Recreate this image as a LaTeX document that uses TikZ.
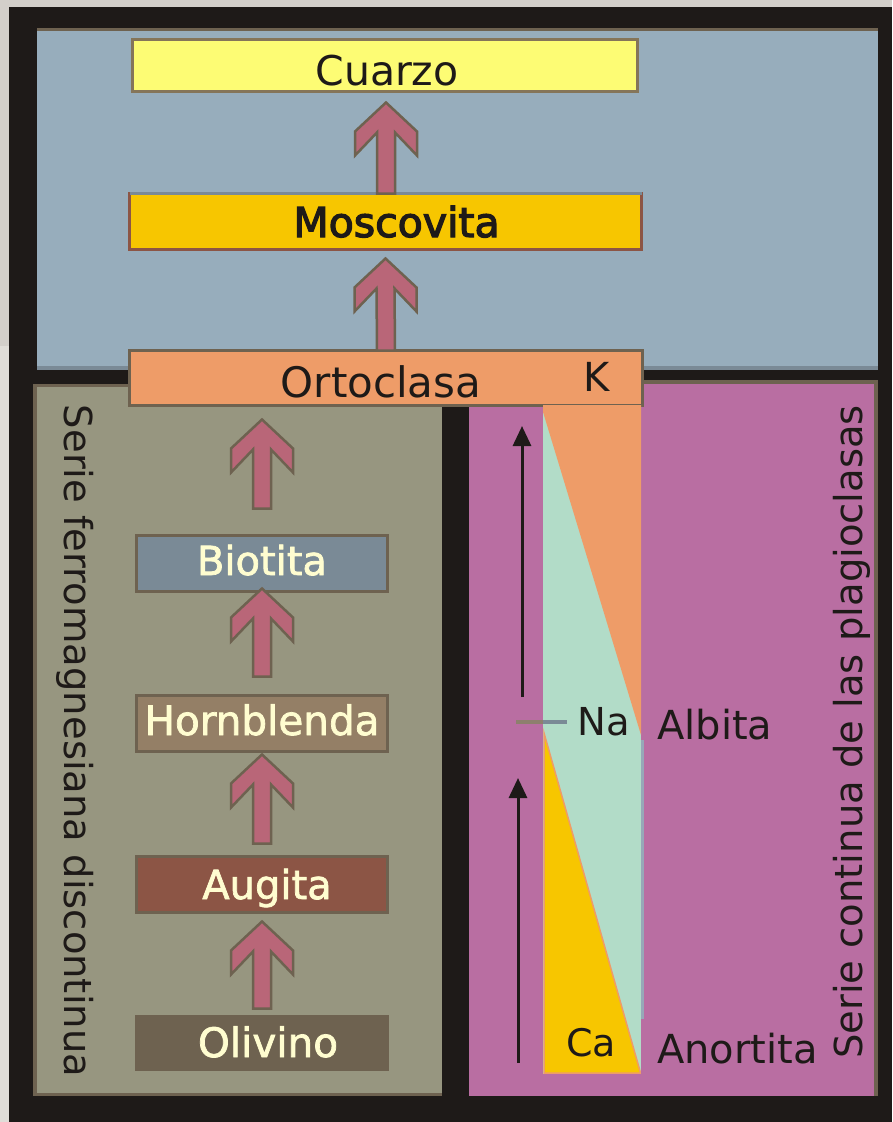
\documentclass[tikz,border=0pt]{standalone}
\usepackage{fontspec}
\setmainfont{DejaVu Sans}
\newfontfamily\bfam{DejaVu Sans}[FakeBold=1.8]
\newfontfamily\mfam{DejaVu Sans}[FakeBold=3]
\usetikzlibrary{arrows.meta,calc}

\definecolor{bgray}{HTML}{D3CFCA}
\definecolor{lgray}{HTML}{E0DDD8}
\definecolor{blk}{HTML}{1E1A18}
\definecolor{bluep}{HTML}{97ADBC}
\definecolor{olivep}{HTML}{979680}
\definecolor{magp}{HTML}{B96EA2}
\definecolor{orng}{HTML}{EE9C68}
\definecolor{yel}{HTML}{F7C600}
\definecolor{lyel}{HTML}{FDFC74}
\definecolor{mint}{HTML}{B2DCC8}
\definecolor{brn}{HTML}{6E6250}
\definecolor{tbrn}{HTML}{857559}
\definecolor{rbrn}{HTML}{8C5545}
\definecolor{bgbox}{HTML}{7A8A96}
\definecolor{hbox}{HTML}{947F66}
\definecolor{cream}{HTML}{FFFDD0}
\definecolor{pnk}{HTML}{B96678}
\definecolor{edgeblue}{HTML}{97A8B8}
\definecolor{tick}{HTML}{8E7F6E}

\tikzset{
  box/.style={rectangle, inner sep=0pt, outer sep=0pt, line width=3pt, draw=brn},
  darktxt/.style={font=\fontsize{#1}{#1}\selectfont, text=blk},
  lighttxt/.style={font=\bfam\fontsize{#1}{#1}\selectfont, text=cream},
  boldtxt/.style={font=\mfam\fontsize{#1}{#1}\selectfont, text=blk},
  fat/.style={fill=pnk, draw=brn, line width=2.5pt, line join=miter},
  sarrow/.style={draw=blk, line width=3pt, -{Triangle[length=20pt,width=18pt]}},
  vtext/.style={font=\fontsize{38.5}{38.5}\selectfont, text=blk, inner sep=0pt}
}

\newcommand\fatarrow[2]{%
  \filldraw[fat] (#2) -- ++(31,29) -- ++(0,24) -- ++(-22,-23)
    -- ($(#1)+(9,0)$) -- ($(#1)+(-9,0)$) -- ($(#2)+(-9,30)$)
    -- ++(-22,23) -- ++(0,-24) -- cycle;}

\begin{document}
\begin{tikzpicture}[x=1pt,y=-1pt]
\useasboundingbox (0,0) rectangle (892,1122);
% background and frame
\fill[bgray] (0,0) rectangle (892,1122);
\fill[lgray] (0,346) rectangle (9,1122);
\fill[blk] (9,7) rectangle (892,1122);
% blue panel
\fill[bgbox] (37,28) rectangle (878,370);
\fill[brn] (37,28) rectangle (878,31);
\fill[bluep] (37,31) rectangle (878,366);
% olive panel
\fill[brn] (33,384) rectangle (442,1096);
\fill[olivep] (37,387) rectangle (442,1093);
% magenta panel
\fill[brn] (469,380) rectangle (878,1096);
\fill[magp] (469,384) rectangle (874,1096);

% Ortoclasa bar
\node[box, fill=orng, minimum width=513pt, minimum height=55pt]
  (ortoclasa) at (386,378) {};
% continuous-series strip
\fill[mint] (543,405) rectangle (641,1074);
\fill[orng] (543,405) -- (641,405) -- (641,735) -- (543,412) -- cycle;
\filldraw[fill=yel, draw=orng, line width=1.5pt] (544,733) -- (640,1071) -- (640,1073) -- (544,1073) -- cycle;
\fill[edgeblue] (641,740) rectangle (644,1019);

% Ortoclasa label
\node[darktxt=42, inner sep=0pt, text height=38pt, text depth=0pt] (ortotxt) at (ortoclasa.center) {Ortoclasa\kern10pt};

% top boxes
\node[box, draw=tbrn, fill=lyel, minimum width=505pt, minimum height=52pt,
  darktxt=41, text height=39pt, text depth=0pt] (cuarzo) at (385,65.5) {\kern4pt Cuarzo};
\node[box, draw=rbrn, fill=yel, minimum width=512pt, minimum height=56pt,
  boldtxt=41, text height=31pt, text depth=0pt] (moscovita) at (385.5,221.5) {\kern22pt Moscovita};
\draw[bgbox, line width=3pt] (moscovita.north west) -- (moscovita.north east);

% left column boxes
\node[box, fill=bgbox, minimum width=251pt, minimum height=56pt,
  lighttxt=40, text height=23pt, text depth=0pt] (biotita) at (262,563.5) {Biotita};
\node[box, fill=hbox, minimum width=251pt, minimum height=56pt,
  lighttxt=40.5, text height=23pt, text depth=0pt] (hornblenda) at (262,723.5) {Hornblenda};
\node[box, fill=rbrn, minimum width=251pt, minimum height=56pt,
  lighttxt=40, text height=29pt, text depth=0pt] (augita) at (262,884.5) {\kern10pt Augita};
\node[box, fill=brn, minimum width=251pt, minimum height=53pt,
  lighttxt=40.5, text height=28pt, text depth=0pt] (olivino) at (262,1043) {\kern12pt Olivino};

% pink arrows
\fatarrow{$(moscovita.north)+(0.5,0)$}{$(cuarzo.south)+(1,11)$}
\fatarrow{ortoclasa.north}{$(moscovita.south)+(0,9)$}
\fatarrow{$(biotita.north)+(0,-27)$}{$(biotita.north |- ortoclasa.south)+(0,14)$}
\fatarrow{$(hornblenda.north)+(0,-19)$}{$(biotita.south)+(0,-3)$}
\fatarrow{$(augita.north)+(0,-13)$}{$(hornblenda.south)+(0,3)$}
\fatarrow{$(olivino.north)+(0,-8)$}{$(augita.south)+(0,9)$}

% labels of the plagioclase series
\node[darktxt=40, inner sep=0pt, anchor=base] (K) at (597,391) {K};
\node[darktxt=38.5, inner sep=0pt, anchor=base] (Na) at (604,735) {Na};
\node[darktxt=38, inner sep=0pt, anchor=base] (Ca) at (591,1056) {Ca};
\node[darktxt=40, inner sep=0pt, anchor=base west] (albita) at (657,739) {Albita};
\node[darktxt=40, inner sep=0pt, anchor=base west] (anortita) at (657,1063) {Anortita};

% tick near Na
\draw[tick, line width=4pt] (516,722) -- (543,722);
\draw[bgbox, line width=4pt] (543,722) -- (567,722);

% black arrows
\coordinate (ar1s) at (522,697);
\coordinate (ar1e) at (522,426);
\coordinate (ar2s) at (518,1063);
\coordinate (ar2e) at (518,778);
\draw[sarrow] (ar1s) -- (ar1e);
\draw[sarrow] (ar2s) -- (ar2e);

% vertical titles
\node[vtext, rotate=-90, anchor=base] (serieL) at (64,741) {Serie ferromagnesiana discontinua};
\node[vtext, rotate=90, anchor=base] (serieR) at (862,732) {Serie continua de las plagioclasas};
\end{tikzpicture}
\end{document}
